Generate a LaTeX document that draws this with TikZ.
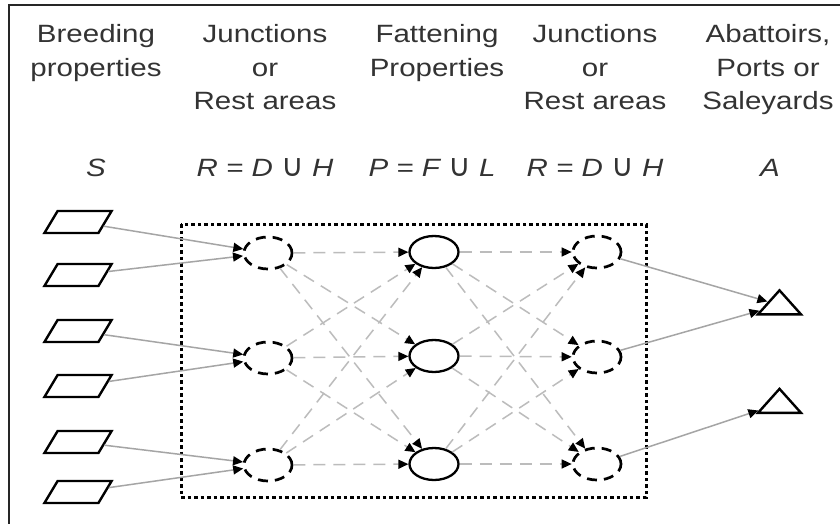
\documentclass[tikz,border=0pt]{standalone}
\usepackage{fontspec}
\setmainfont{Liberation Sans}[FakeStretch=1.18]
\newfontfamily\symfont{DejaVu Sans}
\usetikzlibrary{arrows.meta,shapes.geometric}
\definecolor{linegray}{RGB}{165,165,165}
\definecolor{dashgray}{RGB}{188,188,188}
\newcommand{\cupsym}{{\upshape\symfont\fontsize{31}{31}\selectfont ∪}}
\begin{document}
\begin{tikzpicture}[x=1pt,y=-1pt,
 hdr/.style={font=\fontsize{25}{33.5}\selectfont, align=center, anchor=base, inner sep=0pt, text=black!80},
 mth/.style={font=\fontsize{25}{30}\selectfont\itshape, anchor=base, inner sep=0pt, text=black!80},
 src/.style={draw=black, line width=2.4pt, rectangle, xslant=0.6, transform shape, minimum width=54pt, minimum height=22pt, inner sep=0pt},
 rest/.style={draw=black, line width=2.7pt, dash pattern=on 10pt off 7pt, ellipse, minimum width=48pt, minimum height=32pt, inner sep=0pt},
 fat/.style={draw=black, line width=2.3pt, ellipse, minimum width=49pt, minimum height=32pt, inner sep=0pt},
 dest/.style={draw=black, line width=2.4pt, isosceles triangle, shape border rotate=90, isosceles triangle stretches, minimum width=43pt, minimum height=24pt, inner sep=1pt},
 flow/.style={draw=linegray, line width=1.5pt, -{Triangle[length=10pt,width=9pt,color=black]}},
 dflow/.style={flow, draw=dashgray, dash pattern=on 12pt off 8pt},
]
\useasboundingbox (0,0) rectangle (840,524);
\fill[white] (0,0) rectangle (840,524);
\draw[line width=2.2pt, black!85] (9,524) -- (9,5) -- (840,5);

% headers
\node[hdr] (h1) at (96,76.5) {Breeding\\properties};
\node[hdr] (h2) at (265,110) {Junctions\\or\\Rest areas};
\node[hdr] (h3) at (437,76.5) {Fattening\\Properties};
\node[hdr] (h4) at (595,110) {Junctions\\or\\Rest areas};
\node[hdr] (h5) at (768,110) {Abattoirs,\\Ports or\\Saleyards};

\node[mth] (m1) at (96,176) {S};
\node[mth] (m2) at (265,176) {R = D \cupsym\ H};
\node[mth] (m3) at (432,176) {P = F \cupsym\ L};
\node[mth] (m4) at (595,176) {R = D \cupsym\ H};
\node[mth] (m5) at (770,176) {A};

% dotted box
\draw[line width=3pt, dash pattern=on 3.5pt off 3pt] (181,224) rectangle (646,497);

% nodes
\node[src] (S1) at (78,222) {};
\node[src] (S2) at (78,275) {};
\node[src] (S3) at (78,331) {};
\node[src] (S4) at (78,386) {};
\node[src] (S5) at (78,442) {};
\node[src] (S6) at (78,492) {};

\node[rest] (R1) at (268,253) {};
\node[rest] (R2) at (268,358) {};
\node[rest] (R3) at (268,465) {};

\node[fat] (P1) at (434,252) {};
\node[fat] (P2) at (434,356) {};
\node[fat] (P3) at (434,464) {};

\node[rest] (Q1) at (597,252) {};
\node[rest] (Q2) at (597,357) {};
\node[rest] (Q3) at (597,464) {};

\node[dest] (A1) at (779.5,305) {};
\node[dest] (A2) at (779.5,403.5) {};

% connectors
\draw[flow] (S1) -- (R1);
\draw[flow] (S2) -- (R1);
\draw[flow] (S3) -- (R2);
\draw[flow] (S4) -- (R2);
\draw[flow] (S5) -- (R3);
\draw[flow] (S6) -- (R3);
\foreach \i in {1,2,3}{
  \foreach \j in {1,2,3}{
    \draw[dflow] (R\i) -- (P\j);
    \draw[dflow] (P\i) -- (Q\j);
  }
}
\draw[flow] (Q1) -- (A1);
\draw[flow] (Q2) -- (A1);
\draw[flow] (Q3) -- (A2);
\end{tikzpicture}
\end{document}
